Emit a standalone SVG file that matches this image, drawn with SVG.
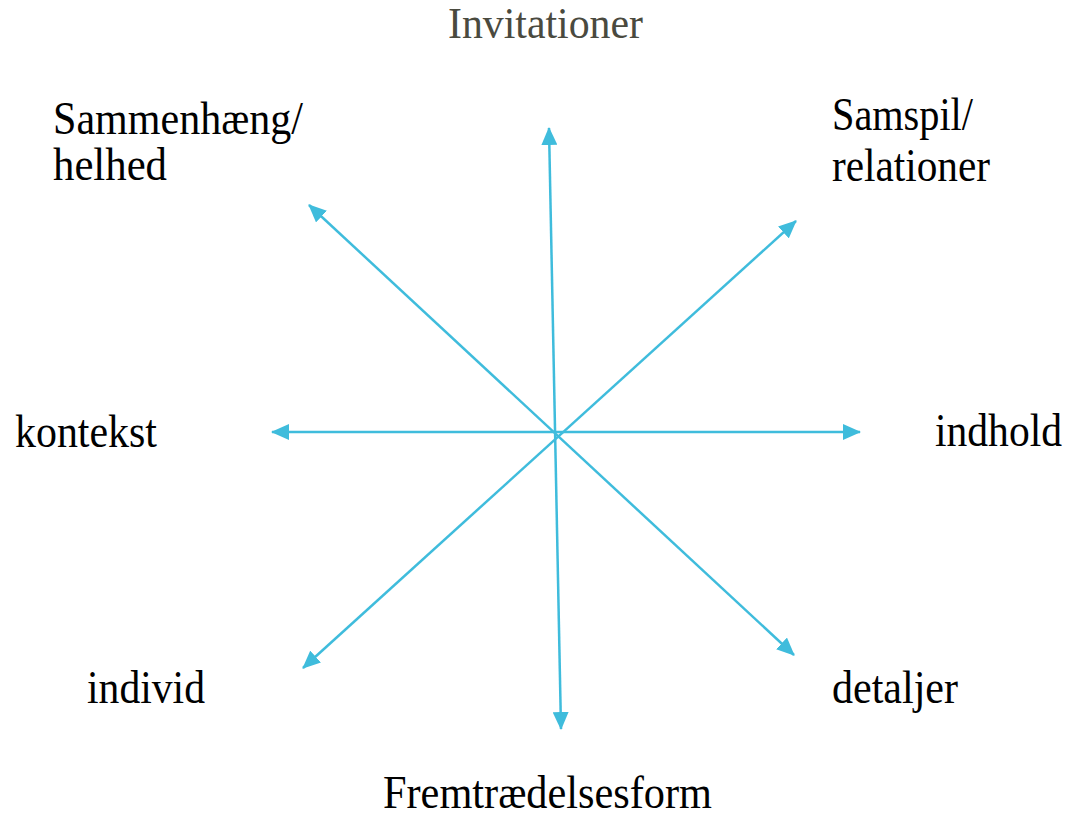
<svg xmlns="http://www.w3.org/2000/svg" width="1067" height="815" viewBox="0 0 1067 815">
<defs>
<style>
.lbl{font-family:"Liberation Serif","Times New Roman",serif;font-size:47px;fill:#000}
.title{font-family:"Liberation Serif","Times New Roman",serif;font-size:44px;fill:#4a4a3f}
.ax{stroke:#3fbcdc;stroke-width:2.5;fill:none;marker-start:url(#ah);marker-end:url(#ah)}
</style>
<marker id="ah" markerUnits="userSpaceOnUse" markerWidth="18" markerHeight="16" viewBox="0 0 18 16" refX="17" refY="8" orient="auto-start-reverse">
<path d="M0,0 L18,8 L0,16 z" fill="#3fbcdc"/>
</marker>
</defs>
<rect width="1067" height="815" fill="#fff"/>
<g id="connectors">
<line class="ax" x1="549" y1="128" x2="561" y2="729"/>
<line class="ax" x1="272" y1="432" x2="860" y2="432"/>
<line class="ax" x1="309" y1="205" x2="794" y2="655"/>
<line class="ax" x1="796" y1="221" x2="303" y2="668"/>
</g>
<g id="title"><text class="title" x="448" y="38" textLength="195" lengthAdjust="spacingAndGlyphs">Invitationer</text></g>
<g id="node-sammenhaeng">
<text class="lbl" x="53" y="134" textLength="250" lengthAdjust="spacingAndGlyphs">Sammenhæng/</text>
<text class="lbl" x="53" y="180" textLength="114" lengthAdjust="spacingAndGlyphs">helhed</text>
</g>
<g id="node-samspil">
<text class="lbl" x="832" y="130" textLength="141" lengthAdjust="spacingAndGlyphs">Samspil/</text>
<text class="lbl" x="832" y="181" textLength="158" lengthAdjust="spacingAndGlyphs">relationer</text>
</g>
<g id="node-kontekst"><text class="lbl" x="15" y="447" textLength="142" lengthAdjust="spacingAndGlyphs">kontekst</text></g>
<g id="node-indhold"><text class="lbl" x="935" y="446" textLength="127" lengthAdjust="spacingAndGlyphs">indhold</text></g>
<g id="node-individ"><text class="lbl" x="87" y="703" textLength="118" lengthAdjust="spacingAndGlyphs">individ</text></g>
<g id="node-detaljer"><text class="lbl" x="832" y="703" textLength="126" lengthAdjust="spacingAndGlyphs">detaljer</text></g>
<g id="node-fremtraedelsesform"><text class="lbl" x="383" y="808" textLength="329" lengthAdjust="spacingAndGlyphs">Fremtrædelsesform</text></g>
</svg>
